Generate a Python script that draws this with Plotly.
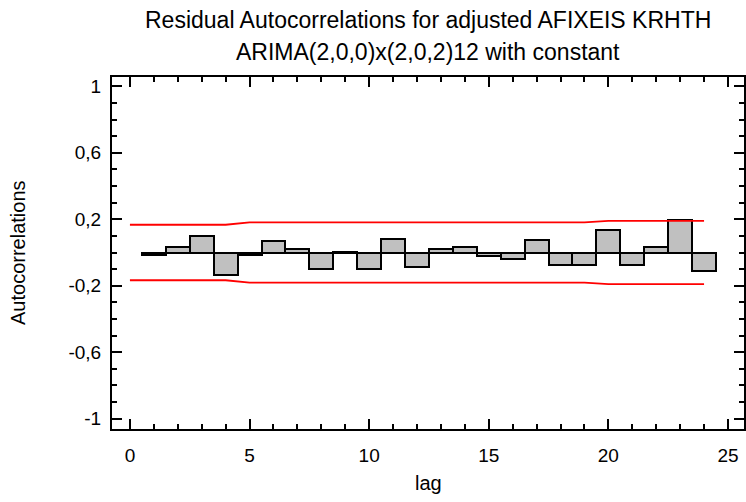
import plotly.graph_objects as go

lags = list(range(1, 25))
acf = [-0.016, 0.032, 0.102, -0.136, -0.016, 0.070, 0.022, -0.098, 0.005, -0.098,
       0.080, -0.087, 0.022, 0.034, -0.024, -0.038, 0.074, -0.074, -0.074, 0.134,
       -0.074, 0.032, 0.198, -0.114]
limit_lags = list(range(0, 25))
upper = [0.167, 0.167, 0.167, 0.167, 0.167, 0.181, 0.181, 0.181, 0.181, 0.181,
         0.181, 0.181, 0.181, 0.181, 0.181, 0.181, 0.181, 0.181, 0.181, 0.181,
         0.190, 0.190, 0.190, 0.190, 0.190]
lower = [-v for v in upper]

ytickvals = [1, 0.6, 0.2, -0.2, -0.6, -1]
yticktext = ["1", "0,6", "0,2", "-0,2", "-0,6", "-1"]
xtickvals = [0, 5, 10, 15, 20, 25]
xticktext = ["0", "5", "10", "15", "20", "25"]

title1 = "Residual Autocorrelations for adjusted AFIXEIS KRHTH"
title2 = "ARIMA(2,0,0)x(2,0,2)12 with constant"
xtitle = "lag"
ytitle = "Autocorrelations"

FONT = "Liberation Sans, Arial, sans-serif"

fig = go.Figure()
fig.add_trace(go.Bar(x=lags, y=acf, width=1,
                     marker=dict(color="#c0c0c0", line=dict(color="black", width=2))))
fig.add_trace(go.Scatter(x=limit_lags, y=upper, mode="lines",
                         line=dict(color="red", width=1.8)))
fig.add_trace(go.Scatter(x=limit_lags, y=lower, mode="lines",
                         line=dict(color="red", width=1.8)))

axis_common = dict(showgrid=False, zeroline=False, showline=True, linecolor="black",
                   linewidth=2, mirror="ticks", ticks="inside", tickcolor="black",
                   tickwidth=2, ticklen=10,
                   tickfont=dict(family=FONT, size=19, color="black"))

fig.update_xaxes(range=[-0.75, 25.67], tickvals=xtickvals, ticktext=xticktext,
                 minor=dict(ticks="inside", dtick=1, tick0=0, ticklen=5, tickwidth=1.5,
                            tickcolor="black"),
                 ticklabelstandoff=8,
                 **axis_common)
fig.update_yaxes(range=[-1.062, 1.056], tickvals=ytickvals, ticktext=yticktext,
                 minor=dict(ticks="inside", dtick=0.1, tick0=0, ticklen=5, tickwidth=1.5,
                            tickcolor="black"),
                 ticklabelstandoff=5,
                 **axis_common)

fig.add_annotation(text=title1, xref="paper", yref="paper", x=0.5, y=1.0, yshift=57,
                   showarrow=False, font=dict(family=FONT, size=23, color="black"),
                   xanchor="center", yanchor="middle")
fig.add_annotation(text=title2, xref="paper", yref="paper", x=0.5, y=1.0, yshift=25,
                   showarrow=False, font=dict(family=FONT, size=23, color="black"),
                   xanchor="center", yanchor="middle")
fig.add_annotation(text=xtitle, xref="paper", yref="paper", x=0.5, y=0.0, yshift=-54,
                   showarrow=False, font=dict(family=FONT, size=20, color="black"),
                   xanchor="center", yanchor="middle")
fig.add_annotation(text=ytitle, xref="paper", yref="paper", x=0.0, y=0.5, xshift=-94,
                   textangle=-90, showarrow=False,
                   font=dict(family=FONT, size=20, color="black"),
                   xanchor="center", yanchor="middle")

fig.update_layout(width=746, height=502, margin=dict(l=112, r=0, t=77, b=73),
                  paper_bgcolor="white", plot_bgcolor="white", showlegend=False,
                  bargap=0)

fig.write_html("out.html")
